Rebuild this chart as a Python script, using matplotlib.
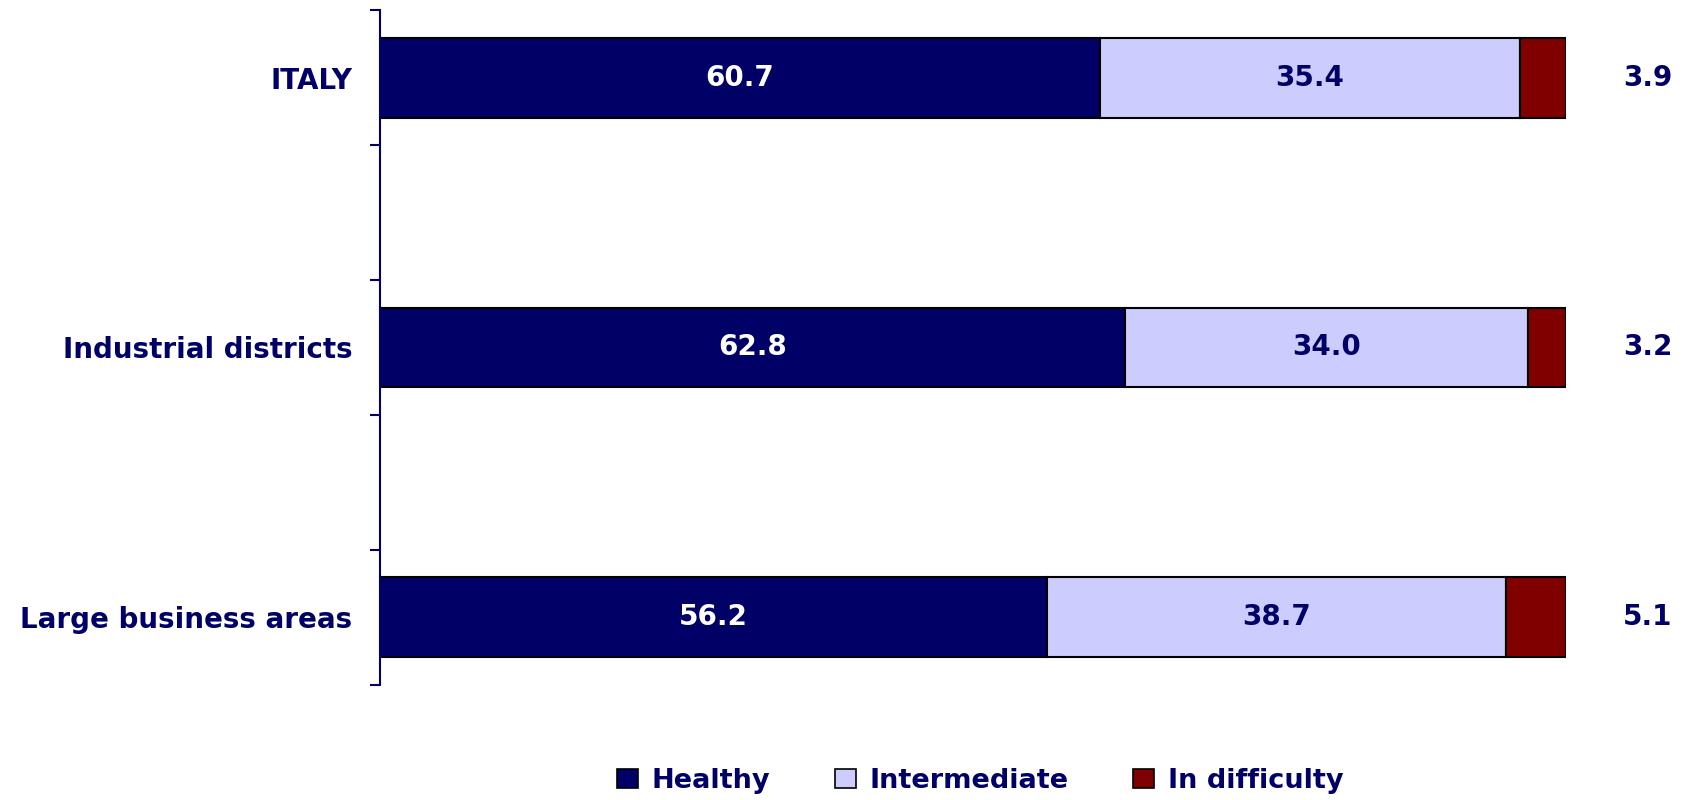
import matplotlib.pyplot as plt
from matplotlib.patches import Patch

categories = ["ITALY", "Industrial districts", "Large business areas"]
healthy = [60.7, 62.8, 56.2]
intermediate = [35.4, 34.0, 38.7]
difficulty = [3.9, 3.2, 5.1]
series_names = ["Healthy", "Intermediate", "In difficulty"]

NAVY = "#000066"
TEXT = "#000066"
LAVENDER = "#CCCCFF"
DARKRED = "#800000"

plt.rcParams["font.family"] = ["DejaVu Sans"]
plt.rcParams["font.weight"] = "bold"

fig = plt.figure(figsize=(16.84, 8), dpi=100)
ax = fig.add_axes([0.2257, 0.144, 0.7043, 0.8433])

y = list(range(len(categories)))
h = 0.296
ax.barh(y, healthy, height=h, color=NAVY, edgecolor="black", linewidth=1.5)
ax.barh(y, intermediate, left=healthy, height=h, color=LAVENDER,
        edgecolor="black", linewidth=1.5)
left2 = [a + b for a, b in zip(healthy, intermediate)]
ax.barh(y, difficulty, left=left2, height=h, color=DARKRED,
        edgecolor="black", linewidth=1.5)

for i in y:
    ax.text(healthy[i] / 2, i, f"{healthy[i]:.1f}", ha="center", va="center",
            color="white", fontsize=20, fontweight="bold")
    ax.text(healthy[i] + intermediate[i] / 2, i, f"{intermediate[i]:.1f}",
            ha="center", va="center", color=TEXT, fontsize=20, fontweight="bold")
    ax.text(106.9, i, f"{difficulty[i]:.1f}", ha="center", va="center",
            color=TEXT, fontsize=20, fontweight="bold", clip_on=False)

ax.set_xlim(0, 100)
ax.set_ylim(2.25, -0.25)
ax.set_xticks([])
ax.set_yticks([-0.25, 0.25, 0.75, 1.25, 1.75, 2.25])
ax.set_yticklabels([])
ax.set_yticks(y, minor=True)
ax.set_yticklabels(categories, minor=True)
ax.tick_params(axis="y", which="major", length=7.5, width=1.5, color=NAVY,
               direction="out")
ax.tick_params(axis="y", which="minor", length=0, pad=20, labelsize=20,
               labelcolor=TEXT)
for lab in ax.get_yticklabels(minor=True):
    lab.set_fontweight("bold")

for side in ["top", "right", "bottom"]:
    ax.spines[side].set_visible(False)
ax.spines["left"].set_color(NAVY)
ax.spines["left"].set_linewidth(1.5)

handles = [Patch(facecolor=c, edgecolor="black", linewidth=1.2)
           for c in [NAVY, LAVENDER, DARKRED]]
leg = fig.legend(handles, series_names, loc="center", ncol=3,
                 bbox_to_anchor=(0.582, 0.024), frameon=False,
                 handlelength=0.77, handleheight=0.7, handletextpad=0.5,
                 columnspacing=2.4,
                 prop={"family": "DejaVu Sans", "weight": "bold", "size": 19.5})
for t in leg.get_texts():
    t.set_color(TEXT)

fig.savefig("out.png", dpi=100)
